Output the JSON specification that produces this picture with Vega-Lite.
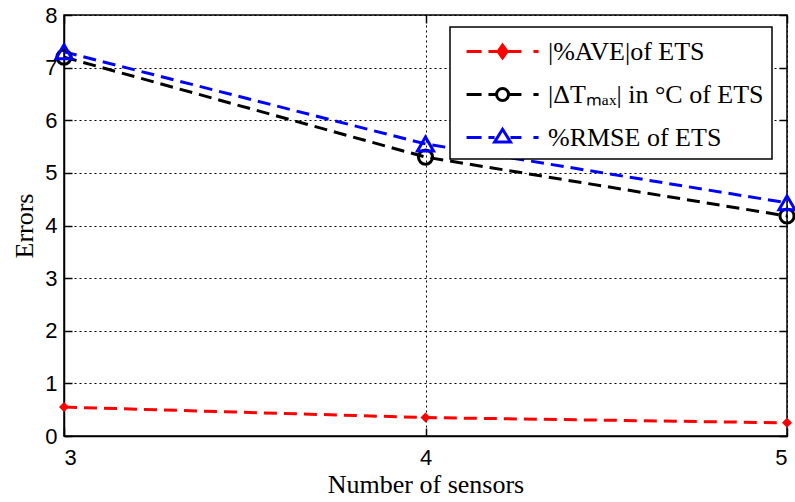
{
  "$schema": "https://vega.github.io/schema/vega-lite/v6.json",
  "width": 723,
  "height": 421,
  "autosize": {"type": "none"},
  "padding": {"left": 64, "top": 15, "right": 8, "bottom": 66},
  "background": "white",
  "config": {
    "view": {"stroke": "black", "strokeWidth": 1.5},
    "axis": {
      "labelFont": "Liberation Sans",
      "labelFontSize": 22,
      "labelColor": "black",
      "titleFont": "Liberation Serif",
      "titleFontSize": 26,
      "titleFontWeight": "normal",
      "titleColor": "black",
      "domainColor": "black",
      "domainWidth": 1.5,
      "tickColor": "black",
      "tickWidth": 1.5,
      "gridColor": "black",
      "gridDash": [2, 3],
      "gridWidth": 1,
      "gridOpacity": 1
    },
    "legend": {"labelFont": "Liberation Serif", "labelFontSize": 26, "labelColor": "black"}
  },
  "data": {
    "values": [
      {"series": "AVE", "sensors": 3, "value": 0.55},
      {"series": "AVE", "sensors": 4, "value": 0.35},
      {"series": "AVE", "sensors": 5, "value": 0.25},
      {"series": "DT", "sensors": 3, "value": 7.2},
      {"series": "DT", "sensors": 4, "value": 5.3},
      {"series": "DT", "sensors": 5, "value": 4.18},
      {"series": "RMSE", "sensors": 3, "value": 7.3},
      {"series": "RMSE", "sensors": 4, "value": 5.55},
      {"series": "RMSE", "sensors": 5, "value": 4.43}
    ]
  },
  "resolve": {"axis": {"x": "independent", "y": "independent"}},
  "layer": [
    {
      "mark": {"type": "line", "strokeWidth": 3, "strokeDash": [13, 7]},
      "encoding": {
        "x": {
          "field": "sensors", "type": "quantitative",
          "scale": {"domain": [3, 5], "nice": false, "zero": false},
          "axis": {"tickCount": 2, "format": "d", "title": "Number of sensors", "tickSize": -8, "labelPadding": 19, "titlePadding": 3, "grid": true, "labelOverlap": false}
        },
        "y": {
          "field": "value", "type": "quantitative",
          "scale": {"domain": [0, 8], "nice": false},
          "axis": {"tickCount": 8, "format": "d", "title": "Errors", "tickSize": -8, "labelPadding": 15, "titlePadding": 7, "grid": true}
        },
        "color": {
          "field": "series", "type": "nominal",
          "scale": {"domain": ["AVE", "DT", "RMSE"], "range": ["#ff0000", "#000000", "#0000ff"]},
          "legend": {
            "title": null,
            "orient": "none",
            "legendX": 386,
            "legendY": 12,
            "fillColor": "white",
            "strokeColor": "black",
            "padding": 8,
            "cornerRadius": 0,
            "rowPadding": 13,
            "labelFont": "Liberation Serif",
            "labelFontSize": 26,
            "labelColor": "black",
            "labelLimit": 400,
            "labelOffset": 57,
            "symbolSize": 900,
            "symbolStrokeWidth": 3,
            "labelExpr": "datum.value === 'AVE' ? '|%AVE|of ETS' : datum.value === 'DT' ? '|ΔTₘₐₓ| in °C of ETS' : '%RMSE of ETS'",
            "encode": {
              "legend": {"update": {"strokeWidth": {"value": 1.5}}},
              "symbols": {
                "update": {
                  "shape": {"signal": "datum.value === 'AVE' ? 'M-0.53,0H0.47M0.93,0H3.13M3.93,0H4.27M1.87,-0.42L2.17,0L1.87,0.42L1.57,0Z' : datum.value === 'DT' ? 'M-0.53,0H0.47M0.93,0H1.47M2.27,0H3.13M3.93,0H4.27M1.47,0A0.4,0.4 0 1,0 2.27,0A0.4,0.4 0 1,0 1.47,0Z' : 'M-0.53,0H0.47M0.93,0H1.34M2.4,0H3.13M3.93,0H4.27M1.87,-0.55L2.4,0.3L1.34,0.3Z'"},
                  "fill": {"signal": "datum.value === 'AVE' ? '#ff0000' : 'white'"},
                  "strokeDash": {"value": []}
                }
              }
            }
          }
        }
      }
    },
    {
      "transform": [{"filter": "datum.series === 'AVE'"}],
      "mark": {"type": "point", "shape": "diamond", "filled": true, "color": "#ff0000", "size": 100, "opacity": 1},
      "encoding": {
        "x": {"field": "sensors", "type": "quantitative", "axis": {"orient": "top", "tickCount": 2, "labels": false, "title": null, "tickSize": -8, "grid": false, "domain": false}},
        "y": {"field": "value", "type": "quantitative", "axis": {"orient": "right", "tickCount": 8, "labels": false, "title": null, "tickSize": -8, "grid": false, "domain": false}}
      }
    },
    {
      "transform": [{"filter": "datum.series === 'DT'"}],
      "mark": {"type": "point", "shape": "circle", "filled": false, "color": "#000000", "size": 200, "strokeWidth": 3, "opacity": 1},
      "encoding": {
        "x": {"field": "sensors", "type": "quantitative", "axis": null},
        "y": {"field": "value", "type": "quantitative", "axis": null}
      }
    },
    {
      "transform": [{"filter": "datum.series === 'RMSE'"}],
      "mark": {"type": "point", "shape": "triangle-up", "filled": false, "color": "#0000ff", "size": 260, "strokeWidth": 3, "opacity": 1},
      "encoding": {
        "x": {"field": "sensors", "type": "quantitative", "axis": null},
        "y": {"field": "value", "type": "quantitative", "axis": null}
      }
    }
  ]
}
